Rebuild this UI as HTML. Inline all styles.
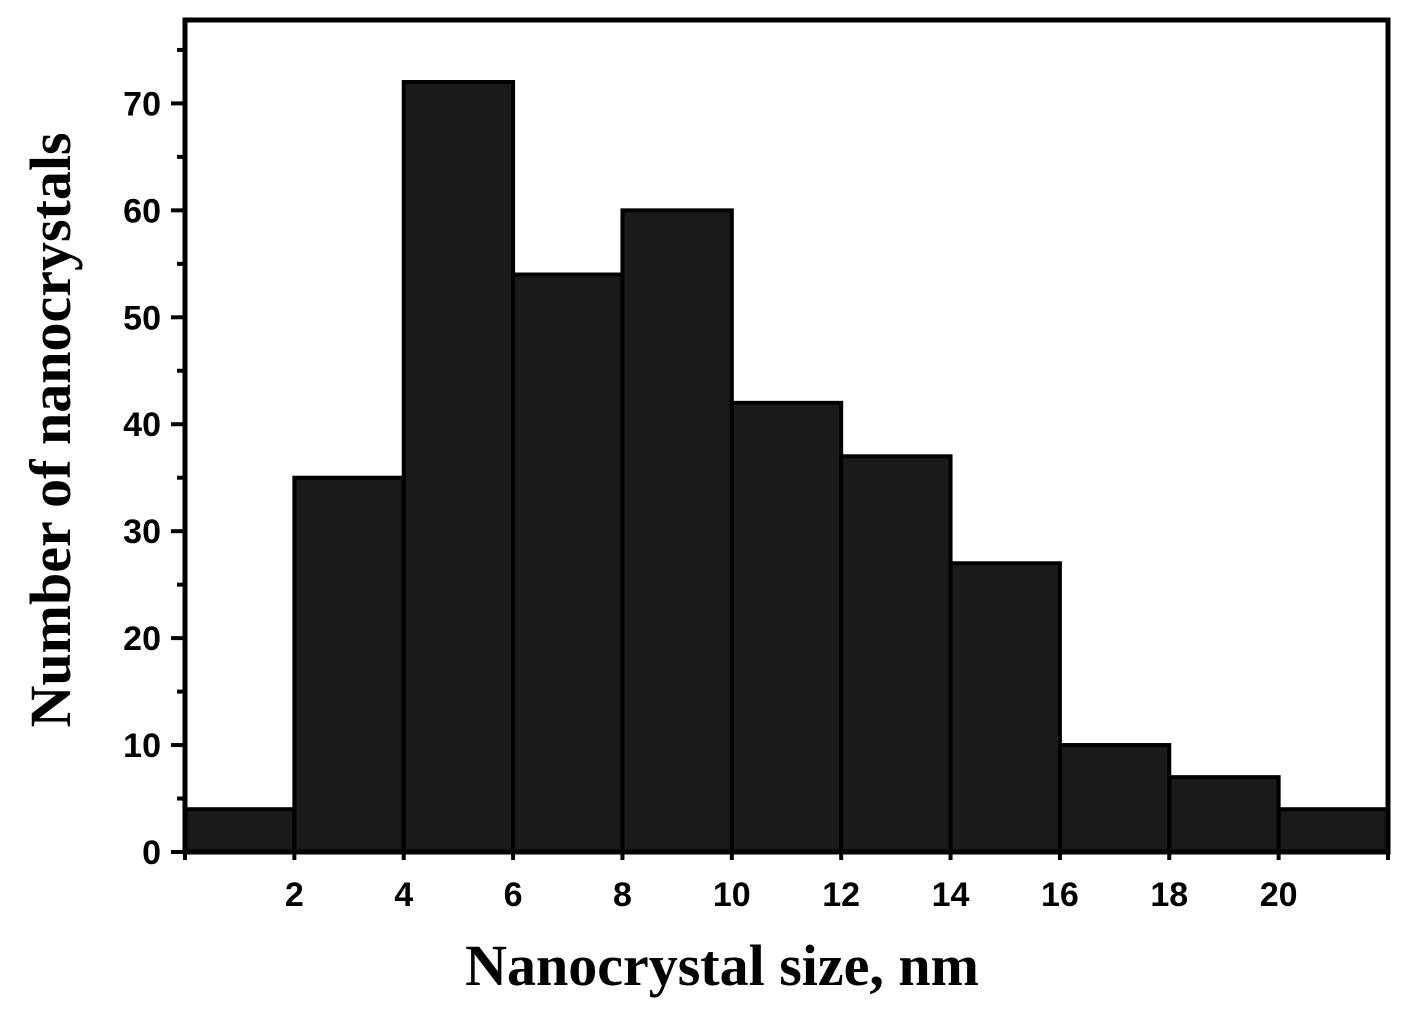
<!DOCTYPE html>
<html><head><meta charset="utf-8">
<style>
html,body{margin:0;padding:0;background:#fff;}
svg{display:block;}
</style></head>
<body>
<svg id="chart" width="1412" height="1014" xmlns="http://www.w3.org/2000/svg"></svg>
<script>
const binStarts = [0,2,4,6,8,10,12,14,16,18,20];
const counts = [4,35,72,54,60,42,37,27,10,7,4];
const xTicks = [2,4,6,8,10,12,14,16,18,20];
const yTicks = [0,10,20,30,40,50,60,70];
const binWidth = 2;

const L=185, R=1388, T=20, B=852;
const xMax=22, yMax=77.8;
const sx = v => L + (v/xMax)*(R-L);
const sy = v => B - (v/yMax)*(B-T);
const svg = document.getElementById('chart');
const NS='http://www.w3.org/2000/svg';
function mk(tag, attrs){const e=document.createElementNS(NS,tag);for(const k in attrs)e.setAttribute(k,attrs[k]);svg.appendChild(e);return e;}

for(let i=0;i<counts.length;i++){
  const r=mk('rect',{x:sx(binStarts[i]),y:sy(counts[i]),width:sx(binStarts[i]+binWidth)-sx(binStarts[i]),height:B-sy(counts[i]),fill:'#1a1a1a',stroke:'#000','stroke-width':4});
  
  
}
const frame=mk('rect',{x:L,y:T,width:R-L,height:B-T,fill:'none',stroke:'#000','stroke-width':5});



for(let v=0; v<=75; v+=5){
  const major = v%10===0;
  const t=mk('line',{x1:L-(major?14:8),x2:L,y1:sy(v),y2:sy(v),stroke:'#000','stroke-width':4});
  
  
}
yTicks.forEach(v=>{
  const t=mk('text',{x:L-24,y:sy(v)+12,'text-anchor':'end','font-family':'Liberation Sans, sans-serif','font-weight':'bold','font-size':34,fill:'#000'});
  t.textContent=v;
  
  
});
for(let v=0; v<=22; v+=2){
  const t=mk('line',{x1:sx(v),x2:sx(v),y1:B,y2:B+8,stroke:'#000','stroke-width':4});
  
  
}
xTicks.forEach(v=>{
  const t=mk('text',{x:sx(v),y:906,'text-anchor':'middle','font-family':'Liberation Sans, sans-serif','font-weight':'bold','font-size':34,fill:'#000'});
  t.textContent=v;
  
  
});
const xt=mk('text',{x:722,y:985,'text-anchor':'middle','font-family':'Liberation Serif, serif','font-weight':'bold','font-size':58,fill:'#000'});
xt.textContent='Nanocrystal size, nm';


const yt=mk('text',{x:0,y:0,'text-anchor':'middle','font-family':'Liberation Serif, serif','font-weight':'bold','font-size':58,fill:'#000',transform:'translate(70,430) rotate(-90)'});
yt.textContent='Number of nanocrystals';


</script>
</body></html>
